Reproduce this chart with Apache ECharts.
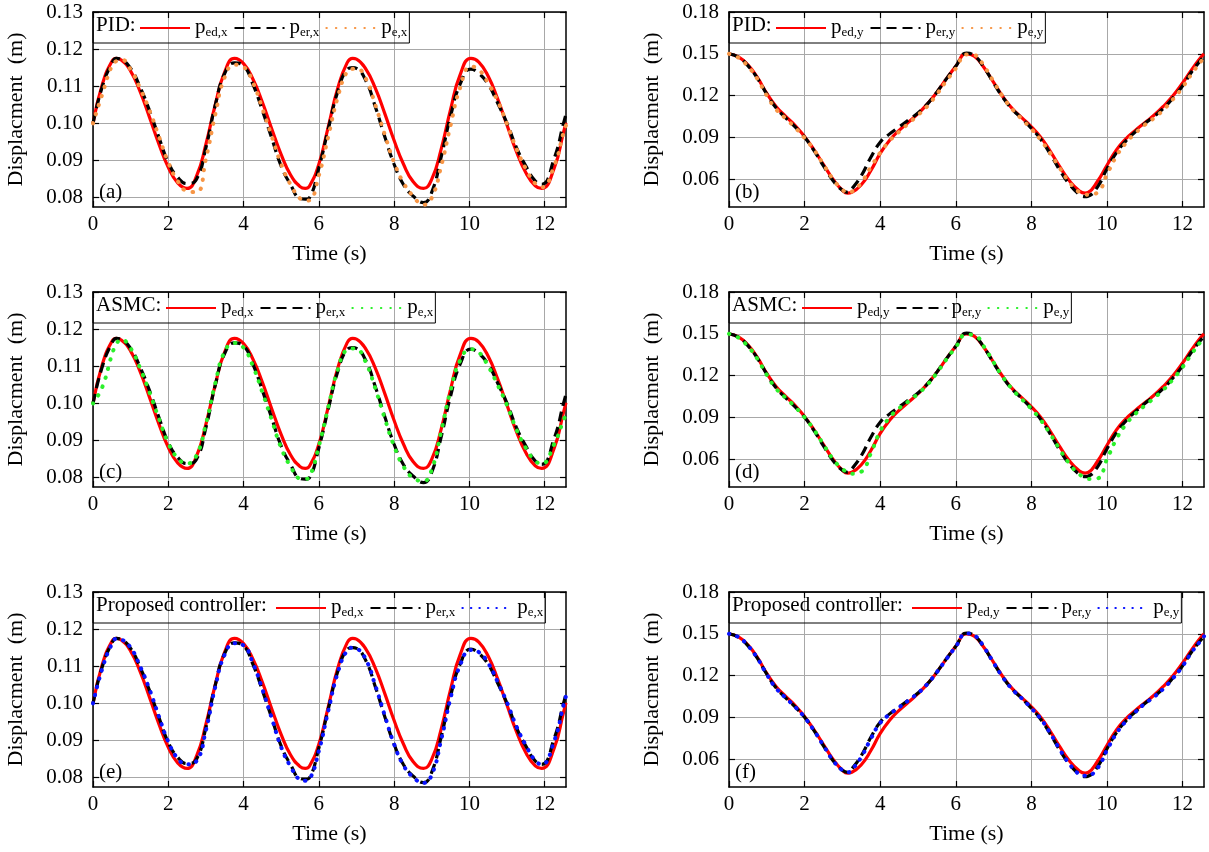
<!DOCTYPE html>
<html>
<head>
<meta charset="utf-8">
<title>Displacement tracking</title>
<script src="https://cdn.jsdelivr.net/npm/echarts@6/dist/echarts.min.js"></script>
<style>
html, body { margin: 0; padding: 0; background: #fff; }
#main { width: 1209px; height: 852px; }
</style>
</head>
<body>
<div id="main"></div>
<script>
// time samples (s), x direction
var timeX = [0, 0.25, 0.5, 0.62, 0.75, 1, 1.25, 1.5, 1.75, 2, 2.25, 2.5, 2.75, 3, 3.25, 3.5, 3.76, 4, 4.25, 4.5,
	4.75, 5, 5.25, 5.5, 5.64, 5.75, 6, 6.25, 6.5, 6.75, 6.9, 7, 7.25, 7.5, 7.75, 8, 8.25, 8.5, 8.78, 9,
	9.25, 9.5, 9.75, 10.04, 10.25, 10.5, 10.75, 11, 11.25, 11.5, 11.75, 11.92, 12.25, 12.5, 12.566];
var pedX = [0.1000, 0.1106, 0.1167, 0.1175, 0.1171, 0.1141, 0.1086, 0.1017, 0.0945, 0.0882, 0.0840, 0.0825, 0.0858, 0.0944, 0.1051, 0.1139, 0.1175, 0.1161, 0.1119, 0.1057,
	0.0985, 0.0916, 0.0861, 0.0830, 0.0825, 0.0831, 0.0890, 0.0991, 0.1094, 0.1163, 0.1175, 0.1173, 0.1146, 0.1095, 0.1027, 0.0954, 0.0890, 0.0844, 0.0825, 0.0850,
	0.0931, 0.1038, 0.1130, 0.1175, 0.1165, 0.1127, 0.1066, 0.0995, 0.0924, 0.0867, 0.0832, 0.0825, 0.0879, 0.0976, 0.1002];
var perX = [0.1000, 0.1100, 0.1162, 0.1175, 0.1172, 0.1148, 0.1098, 0.1035, 0.0963, 0.0895, 0.0855, 0.0838, 0.0850, 0.0935, 0.1050, 0.1135, 0.1163, 0.1155, 0.1105, 0.1035,
	0.0960, 0.0885, 0.0835, 0.0798, 0.0796, 0.0800, 0.0880, 0.0985, 0.1085, 0.1145, 0.1150, 0.1148, 0.1115, 0.1045, 0.0965, 0.0890, 0.0835, 0.0805, 0.0787, 0.0815,
	0.0910, 0.1020, 0.1105, 0.1146, 0.1135, 0.1105, 0.1055, 0.1000, 0.0935, 0.0885, 0.0845, 0.0836, 0.0905, 0.1000, 0.1025];
var peXPid = [0.1000, 0.1080, 0.1155, 0.1168, 0.1172, 0.1145, 0.1095, 0.1035, 0.0965, 0.0895, 0.0845, 0.0818, 0.0815, 0.0905, 0.1025, 0.1125, 0.1158, 0.1152, 0.1110, 0.1040,
	0.0965, 0.0890, 0.0835, 0.0798, 0.0792, 0.0793, 0.0860, 0.0965, 0.1070, 0.1140, 0.1147, 0.1148, 0.1120, 0.1050, 0.0970, 0.0895, 0.0840, 0.0805, 0.0781, 0.0800,
	0.0885, 0.0995, 0.1095, 0.1153, 0.1145, 0.1108, 0.1060, 0.0998, 0.0932, 0.0878, 0.0838, 0.0828, 0.0885, 0.0975, 0.0995];
var peXAsmc = [0.1000, 0.1045, 0.1130, 0.1160, 0.1172, 0.1148, 0.1095, 0.1030, 0.0960, 0.0893, 0.0853, 0.0838, 0.0860, 0.0945, 0.1055, 0.1140, 0.1163, 0.1150, 0.1100, 0.1030,
	0.0955, 0.0880, 0.0830, 0.0798, 0.0797, 0.0802, 0.0885, 0.0990, 0.1090, 0.1145, 0.1148, 0.1147, 0.1110, 0.1040, 0.0960, 0.0885, 0.0830, 0.0800, 0.0791, 0.0822,
	0.0925, 0.1035, 0.1115, 0.1146, 0.1138, 0.1100, 0.1050, 0.0995, 0.0930, 0.0880, 0.0845, 0.0838, 0.0890, 0.0955, 0.0970];
var peXProp = [0.1000, 0.1095, 0.1160, 0.1174, 0.1172, 0.1150, 0.1100, 0.1038, 0.0965, 0.0897, 0.0852, 0.0836, 0.0845, 0.0928, 0.1045, 0.1132, 0.1162, 0.1156, 0.1108, 0.1038,
	0.0960, 0.0882, 0.0830, 0.0795, 0.0792, 0.0796, 0.0872, 0.0980, 0.1082, 0.1143, 0.1150, 0.1148, 0.1118, 0.1048, 0.0968, 0.0890, 0.0833, 0.0802, 0.0786, 0.0808,
	0.0902, 0.1015, 0.1102, 0.1144, 0.1138, 0.1108, 0.1058, 0.1002, 0.0938, 0.0887, 0.0846, 0.0836, 0.0898, 0.0995, 0.1020];

// time samples (s), y direction
var timeY = [0, 0.25, 0.5, 0.75, 1, 1.25, 1.5, 1.75, 2, 2.25, 2.5, 2.75, 3, 3.14, 3.25, 3.5, 3.75, 4, 4.25, 4.5,
	4.75, 5, 5.25, 5.5, 5.75, 6, 6.28, 6.5, 6.75, 7, 7.25, 7.5, 7.75, 8, 8.25, 8.5, 8.75, 9, 9.25, 9.42,
	9.5, 9.75, 10, 10.25, 10.5, 10.75, 11, 11.25, 11.5, 11.75, 12, 12.25, 12.5, 12.566];
var pedY = [0.1500, 0.1478, 0.1420, 0.1330, 0.1215, 0.1120, 0.1050, 0.0985, 0.0905, 0.0810, 0.0705, 0.0600, 0.0520, 0.0500, 0.0506, 0.0560, 0.0660, 0.0785, 0.0880, 0.0950,
	0.1010, 0.1070, 0.1140, 0.1225, 0.1320, 0.1410, 0.1500, 0.1480, 0.1400, 0.1295, 0.1190, 0.1105, 0.1040, 0.0975, 0.0900, 0.0800, 0.0690, 0.0590, 0.0520, 0.0500,
	0.0504, 0.0585, 0.0700, 0.0810, 0.0890, 0.0950, 0.1005, 0.1060, 0.1125, 0.1200, 0.1290, 0.1390, 0.1480, 0.1500];
var perY = [0.1500, 0.1475, 0.1415, 0.1325, 0.1210, 0.1110, 0.1040, 0.0975, 0.0900, 0.0805, 0.0695, 0.0590, 0.0520, 0.0505, 0.0530, 0.0625, 0.0755, 0.0865, 0.0925, 0.0975,
	0.1025, 0.1075, 0.1140, 0.1225, 0.1320, 0.1410, 0.1505, 0.1485, 0.1400, 0.1290, 0.1185, 0.1100, 0.1035, 0.0965, 0.0885, 0.0780, 0.0665, 0.0565, 0.0495, 0.0475,
	0.0478, 0.0545, 0.0675, 0.0790, 0.0875, 0.0940, 0.1000, 0.1050, 0.1110, 0.1185, 0.1270, 0.1375, 0.1460, 0.1480];
var peYPid = [0.1500, 0.1472, 0.1410, 0.1320, 0.1200, 0.1100, 0.1035, 0.0970, 0.0895, 0.0810, 0.0705, 0.0600, 0.0525, 0.0503, 0.0510, 0.0575, 0.0685, 0.0790, 0.0875, 0.0940,
	0.1000, 0.1060, 0.1125, 0.1210, 0.1305, 0.1395, 0.1495, 0.1490, 0.1410, 0.1300, 0.1190, 0.1100, 0.1030, 0.0960, 0.0880, 0.0785, 0.0680, 0.0580, 0.0510, 0.0492,
	0.0488, 0.0505, 0.0635, 0.0765, 0.0860, 0.0930, 0.0990, 0.1040, 0.1100, 0.1175, 0.1260, 0.1360, 0.1450, 0.1470];
var peYAsmc = [0.1500, 0.1472, 0.1410, 0.1320, 0.1205, 0.1105, 0.1040, 0.0975, 0.0900, 0.0810, 0.0705, 0.0600, 0.0530, 0.0505, 0.0495, 0.0510, 0.0640, 0.0800, 0.0900, 0.0965,
	0.1015, 0.1070, 0.1135, 0.1220, 0.1315, 0.1405, 0.1495, 0.1488, 0.1405, 0.1295, 0.1188, 0.1100, 0.1030, 0.0960, 0.0880, 0.0780, 0.0670, 0.0570, 0.0495, 0.0470,
	0.0458, 0.0462, 0.0600, 0.0745, 0.0850, 0.0925, 0.0985, 0.1040, 0.1100, 0.1175, 0.1260, 0.1360, 0.1450, 0.1465];
var peYProp = [0.1500, 0.1476, 0.1415, 0.1325, 0.1208, 0.1108, 0.1040, 0.0975, 0.0900, 0.0805, 0.0698, 0.0592, 0.0520, 0.0505, 0.0525, 0.0615, 0.0745, 0.0860, 0.0922, 0.0972,
	0.1022, 0.1074, 0.1140, 0.1225, 0.1318, 0.1408, 0.1502, 0.1487, 0.1402, 0.1292, 0.1186, 0.1100, 0.1035, 0.0965, 0.0888, 0.0785, 0.0670, 0.0568, 0.0495, 0.0480,
	0.0482, 0.0535, 0.0665, 0.0785, 0.0872, 0.0938, 0.0998, 0.1048, 0.1108, 0.1182, 0.1268, 0.1372, 0.1458, 0.1482];

// tick labels
var xTicks = [0, 2, 4, 6, 8, 10, 12];
var yTicksX = [0.08, 0.09, 0.10, 0.11, 0.12, 0.13];
var yTicksY = [0.06, 0.09, 0.12, 0.15, 0.18];

var FONT = 'Liberation Serif';
var X_MAX = 12.566;

function pairs(ts, vals) {
	var out = [];
	for (var i = 0; i < vals.length; i++) {
		out.push([ts[i], vals[i]]);
	}
	return out;
}

var panels = [
	{ left: 93, top: 12, width: 473, dir: 'x', ctrl: 'PID:', pad: 46, tag: '(a)', est: peXPid, color: '#f79646', dash: [0.5, 9] },
	{ left: 729, top: 12, width: 475, dir: 'y', ctrl: 'PID:', pad: 46, tag: '(b)', est: peYPid, color: '#f79646', dash: [0.5, 9] },
	{ left: 93, top: 292, width: 473, dir: 'x', ctrl: 'ASMC:', pad: 72, tag: '(c)', est: peXAsmc, color: '#2bf02b', dash: [0.5, 9] },
	{ left: 729, top: 292, width: 475, dir: 'y', ctrl: 'ASMC:', pad: 72, tag: '(d)', est: peYAsmc, color: '#2bf02b', dash: [0.5, 9] },
	{ left: 93, top: 592, width: 473, dir: 'x', ctrl: 'Proposed controller:', pad: 182, tag: '(e)', est: peXProp, color: '#0a14ff', dash: [0.5, 8] },
	{ left: 729, top: 592, width: 475, dir: 'y', ctrl: 'Proposed controller:', pad: 182, tag: '(f)', est: peYProp, color: '#0a14ff', dash: [0.5, 8] }
];
var GRID_H = 195;

var grids = [], xAxes = [], yAxes = [], series = [], legends = [], titles = [];

panels.forEach(function(p, i) {
	var isX = p.dir === 'x';
	var yMin = isX ? 0.0775 : 0.04;
	var yMax = isX ? 0.13 : 0.18;
	var yInt = isX ? 0.01 : 0.03;
	var yTicks = isX ? yTicksX : yTicksY;
	var ts = isX ? timeX : timeY;
	// '#n' keeps series names unique per panel, stripped in the legend
	var names = ['p_ed,' + p.dir + '#' + i, 'p_er,' + p.dir + '#' + i, 'p_e,' + p.dir + '#' + i];

	grids.push({ left: p.left, top: p.top, width: p.width, height: GRID_H });

	var axisLineStyle = { color: '#000', width: 1.5 };
	var tickStyle = { inside: true, length: 6, lineStyle: { color: '#000', width: 1.2 } };

	xAxes.push({
		gridIndex: i, type: 'value', position: 'bottom', min: 0, max: X_MAX, interval: 2,
		name: 'Time (s)', nameLocation: 'middle', nameGap: 36,
		nameTextStyle: { fontFamily: FONT, fontSize: 22, color: '#000' },
		axisLine: { onZero: false, lineStyle: axisLineStyle },
		axisTick: Object.assign({ customValues: xTicks }, tickStyle),
		axisLabel: { customValues: xTicks, fontFamily: FONT, fontSize: 21, color: '#000', margin: 7 },
		splitLine: { show: true, lineStyle: { color: '#a8a8a8', width: 1 } }
	});
	xAxes.push({
		gridIndex: i, type: 'value', position: 'top', min: 0, max: X_MAX, interval: 2,
		axisLine: { onZero: false, lineStyle: axisLineStyle },
		axisTick: Object.assign({ customValues: xTicks }, tickStyle),
		axisLabel: { show: false },
		splitLine: { show: false }
	});
	yAxes.push({
		gridIndex: i, type: 'value', position: 'left', min: yMin, max: yMax, interval: yInt,
		name: 'Displacment  (m)', nameLocation: 'middle', nameGap: 66,
		nameTextStyle: { fontFamily: FONT, fontSize: 22, color: '#000' },
		axisLine: { onZero: false, lineStyle: axisLineStyle },
		axisTick: Object.assign({ customValues: yTicks }, tickStyle),
		axisLabel: {
			customValues: yTicks, fontFamily: FONT, fontSize: 21, color: '#000', margin: 10,
			formatter: function(v) { return v.toFixed(2); }
		},
		splitLine: { show: true, lineStyle: { color: '#a8a8a8', width: 1 } }
	});
	yAxes.push({
		gridIndex: i, type: 'value', position: 'right', min: yMin, max: yMax, interval: yInt,
		axisLine: { onZero: false, lineStyle: axisLineStyle },
		axisTick: Object.assign({ customValues: yTicks }, tickStyle),
		axisLabel: { show: false },
		splitLine: { show: false }
	});

	var ref = isX ? pedX : pedY;
	var rob = isX ? perX : perY;
	series.push({
		name: names[0], type: 'line', xAxisIndex: i * 2, yAxisIndex: i * 2, data: pairs(ts, ref),
		smooth: true, symbol: 'none', lineStyle: { color: '#ff0000', width: 3.2 }, itemStyle: { color: '#ff0000' }
	});
	series.push({
		name: names[1], type: 'line', xAxisIndex: i * 2, yAxisIndex: i * 2, data: pairs(ts, rob),
		smooth: true, symbol: 'none', lineStyle: { color: '#000', width: 3.2, type: [10, 6] }, itemStyle: { color: '#000' }
	});
	series.push({
		name: names[2], type: 'line', xAxisIndex: i * 2, yAxisIndex: i * 2, data: pairs(ts, p.est),
		smooth: true, symbol: 'none', lineStyle: { color: p.color, width: 4, type: p.dash, cap: 'round' }, itemStyle: { color: p.color }
	});

	legends.push({
		left: p.left, top: p.top, orient: 'horizontal', selectedMode: false,
		data: names, itemWidth: 50, itemHeight: 14, itemGap: 6,
		padding: [3, 2, 4, p.pad],
		borderColor: '#000', borderWidth: 1, borderRadius: 0,
		itemStyle: { opacity: 0 },
		formatter: function(name) {
			var parts = name.split('#')[0].split('_');
			return '{b|' + parts[0] + '}{s|' + parts[1] + '}';
		},
		textStyle: {
			fontFamily: FONT, color: '#000',
			rich: {
				b: { fontFamily: FONT, fontSize: 21, lineHeight: 22, verticalAlign: 'top', color: '#000' },
				s: { fontFamily: FONT, fontSize: 13, lineHeight: 13, verticalAlign: 'bottom', padding: [11, 0, 0, 0], color: '#000' }
			}
		}
	});

	titles.push({
		text: p.ctrl, left: p.left + 3, top: p.top + 3, padding: 0,
		textStyle: { fontFamily: FONT, fontSize: 21, fontWeight: 'normal', color: '#000' }
	});
	titles.push({
		text: p.tag, left: p.left + 6, top: p.top + GRID_H - 25, padding: 0,
		textStyle: { fontFamily: FONT, fontSize: 21, fontWeight: 'normal', color: '#000' }
	});
});

var chart = echarts.init(document.getElementById('main'));
chart.setOption({
	animation: false,
	backgroundColor: '#fff',
	textStyle: { fontFamily: FONT },
	title: titles,
	legend: legends,
	grid: grids,
	xAxis: xAxes,
	yAxis: yAxes,
	series: series
});
</script>
</body>
</html>
